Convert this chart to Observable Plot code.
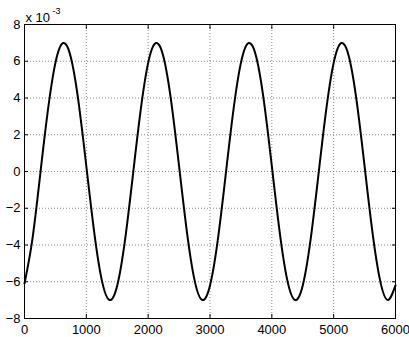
<!DOCTYPE html>
<html>
<head>
<meta charset="utf-8">
<script src="https://cdn.jsdelivr.net/npm/d3@7"></script>
<script src="https://cdn.jsdelivr.net/npm/@observablehq/plot@0.6"></script>
<style>
  html, body { margin: 0; padding: 0; background: #fff; }
  #chart { width: 409px; height: 337px; overflow: hidden; }
</style>
</head>
<body>
<div id="chart"></div>
<script>
// x positions (samples) and signal values (units of 1e-3)
const xs = [0,125,250,375,500,625,750,875,1000,1125,1250,1375,
            1500,1625,1750,1875,2000,2125,2250,2375,2500,2625,2750,2875,
            3000,3125,3250,3375,3500,3625,3750,3875,4000,4125,4250,4375,
            4500,4625,4750,4875,5000,5125,5250,5375,5500,5625,5750,5875,6000];
const ys = [-6.10,-3.75,-0.29,3.24,5.91,6.99,6.20,3.75,0.29,-3.24,-5.91,-6.99,
            -6.20,-3.75,-0.29,3.24,5.91,6.99,6.20,3.75,0.29,-3.24,-5.91,-6.99,
            -6.20,-3.75,-0.29,3.24,5.91,6.99,6.20,3.75,0.29,-3.24,-5.91,-6.99,
            -6.20,-3.75,-0.29,3.24,5.91,6.99,6.20,3.75,0.29,-3.24,-5.91,-6.99,
            -6.20];
const xTicks = [0,1000,2000,3000,4000,5000,6000];
const yTicks = [-8,-6,-4,-2,0,2,4,6,8];
const exponentBase = "x 10";
const exponentPower = "-3";

const data = xs.map((x, i) => ({x, y: ys[i]}));
const fmt = d3.format("d");

const chart = Plot.plot({
  width: 409,
  height: 337,
  marginLeft: 24,
  marginRight: 14,
  marginTop: 24,
  marginBottom: 19,
  style: {fontFamily: "'Liberation Sans', Arial, sans-serif", fontSize: "13px", color: "#000", background: "#fff"},
  x: {domain: [0, 6000]},
  y: {domain: [-8, 8]},
  marks: [
    Plot.gridX(xTicks, {stroke: "#888", strokeOpacity: 1, strokeDasharray: "1,2"}),
    Plot.gridY(yTicks, {stroke: "#888", strokeOpacity: 1, strokeDasharray: "1,2"}),
    Plot.axisX(xTicks, {anchor: "bottom", tickSize: -4, tickPadding: 10, label: null, fontSize: 13, tickFormat: fmt}),
    Plot.axisX(xTicks, {anchor: "top", tickSize: -4, tickFormat: () => "", label: null}),
    Plot.axisY(yTicks, {anchor: "left", tickSize: -4, tickPadding: 8, label: null, fontSize: 13, tickFormat: fmt}),
    Plot.axisY(yTicks, {anchor: "right", tickSize: -4, tickFormat: () => "", label: null}),
    Plot.line(data, {x: "x", y: "y", stroke: "#000", strokeWidth: 2, curve: "natural"}),
    Plot.frame({stroke: "#000", strokeWidth: 1}),
    Plot.text([exponentBase], {frameAnchor: "top-left", text: d => d, textAnchor: "start", lineAnchor: "bottom", dx: 1, dy: -3, fontSize: 13}),
    Plot.text([exponentPower], {frameAnchor: "top-left", text: d => d, textAnchor: "start", lineAnchor: "bottom", dx: 28, dy: -11, fontSize: 9})
  ]
});
document.getElementById("chart").appendChild(chart);
</script>
</body>
</html>
